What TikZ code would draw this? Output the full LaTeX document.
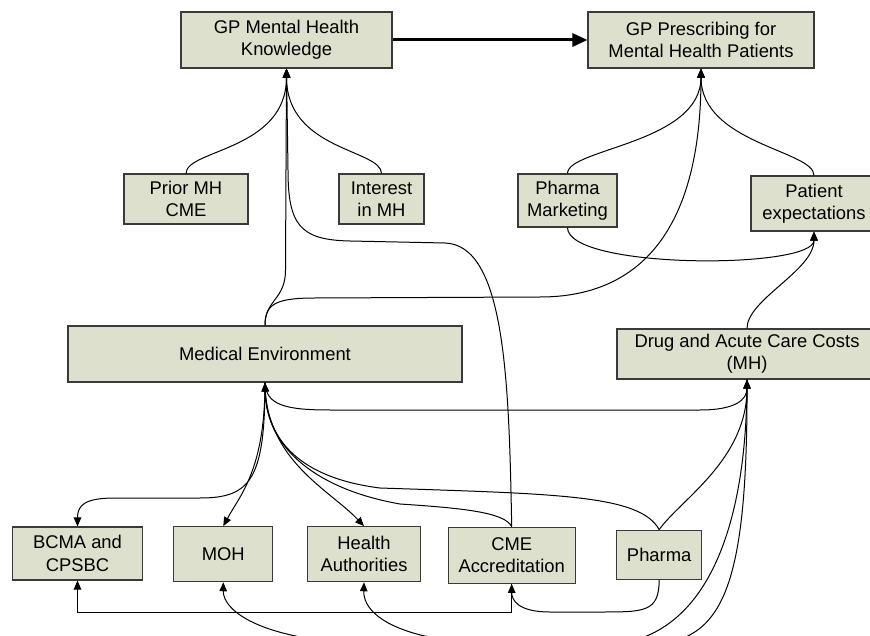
\documentclass[tikz,border=0pt]{standalone}
\usepackage{fontspec}
\setmainfont{Liberation Sans}
\usetikzlibrary{arrows.meta}
\definecolor{boxfill}{RGB}{221,224,204}
\definecolor{boxline}{RGB}{58,58,58}
\begin{document}
\begin{tikzpicture}[x=1pt,y=-1pt,
  box/.style={draw=boxline, fill=boxfill, line width=1.1pt, inner sep=0pt, align=center,
              font=\fontsize{18.4}{22.3}\selectfont},
  con/.style={line width=1pt, draw=black},
  arr/.style={con, -{Triangle[length=9pt,width=7.5pt]}},
  thickarr/.style={line width=3pt, draw=black, -{Triangle[length=15pt,width=13pt]}}
]
\useasboundingbox (0,0) rectangle (870,636);
\fill[white] (0,0) rectangle (870,636);
\clip (0,0) rectangle (870,636);

% nodes
\node[box, minimum width=211pt, minimum height=56pt] (gpk) at (286.5,40) {GP Mental Health\\Knowledge};
\node[box, minimum width=226pt, minimum height=56pt] (gpp) at (701,40) {GP Prescribing for\\Mental Health Patients};
\node[box, minimum width=124pt, minimum height=50pt] (prior) at (186,199) {Prior MH\\CME};
\node[box, minimum width=85pt, minimum height=50pt] (interest) at (381.5,199) {Interest\\in MH};
\node[box, minimum width=99pt, minimum height=53pt] (pm) at (567.5,200.5) {Pharma\\Marketing};
\node[box, minimum width=126pt, minimum height=55pt] (pe) at (814,203.5) {Patient\\expectations};
\node[box, minimum width=394pt, minimum height=56pt] (me) at (265,354) {Medical Environment};
\node[box, minimum width=260pt, minimum height=50pt] (drug) at (747,354) {Drug and Acute Care Costs\\(MH)};
\node[box, minimum width=130pt, minimum height=53pt] (bcma) at (77.5,553.5) {BCMA and\\CPSBC};
\node[box, minimum width=99pt, minimum height=55pt] (moh) at (223.3,554.2) {MOH};
\node[box, minimum width=113pt, minimum height=55pt] (ha) at (364,554.2) {Health\\Authorities};
\node[box, minimum width=127pt, minimum height=56pt] (cme) at (511.7,555.3) {CME\\Accreditation};
\node[box, minimum width=85pt, minimum height=49pt] (pharma) at (659.2,554.7) {Pharma};

% connectors
\draw[thickarr] (gpk.east) -- (gpp.west);
\draw[arr] (prior.north) .. controls +(0,-24) and +(0,82) .. (gpk.south);
\draw[arr] (interest.north) .. controls +(0,-24) and +(0,82) .. (gpk.south);
\draw[arr] (me.north) .. controls +(0,-26) and (285.5,300) .. (285.5,270) -- (gpk.south);
\draw[arr] (cme.north) .. controls (509,380) and (505,245) .. (445,243) -- (350,241)
   .. controls (300,240) and (288,225) .. (288,170) -- (gpk.south);
\draw[arr] (me.north) .. controls +(0,-21) and (275,298) .. (315,298) -- (540,297)
   .. controls (640,297) and (701,230) .. (gpp.south);
\draw[arr] (pm.north) .. controls +(0,-25) and +(0,75) .. (gpp.south);
\draw[arr] (pe.north) .. controls +(0,-25) and +(0,75) .. (gpp.south);
\draw[arr] (pm.south) .. controls +(0,42) and +(0,38) .. (pe.south);
\draw[arr] (drug.north) .. controls +(0,-29) and +(0,39) .. (pe.south);
\draw[arr] (me.south) .. controls (266,405) and (285,410) .. (330,410) -- (700,410)
   .. controls (735,410) and (747,400) .. (drug.south);
\draw[arr] (me.south) .. controls (265,480) and (250,498) .. (200,498) -- (115,498)
   .. controls (85,498) and (77.5,505) .. (bcma.north);
\draw[arr] (me.south) .. controls (265,470) and (240,495) .. (moh.north);
\draw[arr] (me.south) .. controls (265,460) and (330,490) .. (ha.north);
\draw[arr] (cme.north) .. controls (505,512) and (460,508) .. (400,504)
   .. controls (320,490) and (266,450) .. (me.south);
\draw[arr] (pharma.north) .. controls (640,495) and (560,494) .. (380,488)
   .. controls (300,478) and (267,440) .. (me.south);
\draw[arr] (pharma.north) .. controls (680,500) and (747,460) .. (drug.south);
\draw[arr] (drug.south) .. controls (747,540) and (700,645) .. (600,645) -- (520,645)
   .. controls (400,645) and (363,615) .. (ha.south);
\draw[arr] (drug.south) .. controls (748,600) and (720,645) .. (640,645) -- (400,645)
   .. controls (260,645) and (223,610) .. (moh.south);
\draw[arr] (pharma.south) .. controls (659,612) and (645,612) .. (600,612) -- (550,612)
   .. controls (518,612) and (511.7,600) .. (cme.south);
\draw[arr] (cme.south) -- ++(0,29) -| (bcma.south);
\end{tikzpicture}
\end{document}
